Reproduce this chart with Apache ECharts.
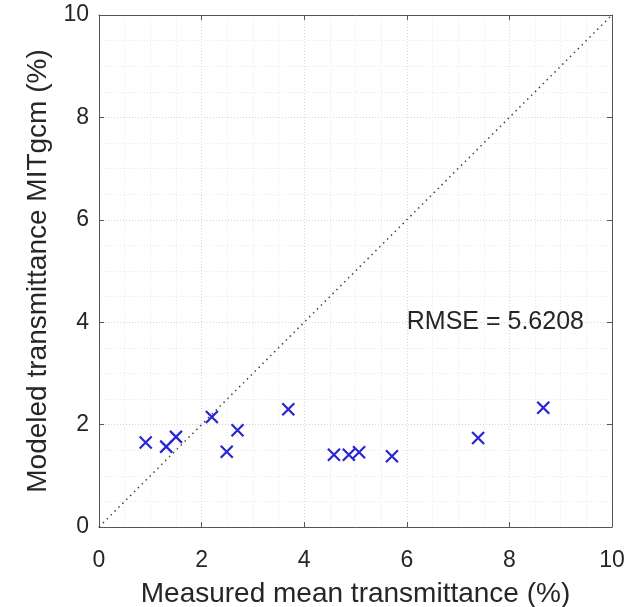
<!DOCTYPE html>
<html lang="en">
<head>
    <meta charset="UTF-8">
    <script src="https://cdn.jsdelivr.net/npm/echarts@6/dist/echarts.min.js"></script>
    <title>Transmittance</title>
</head>
<body style="margin:0; background:#fff;">
<div id="container" style="width:632px; height:607px;"></div>
<script>
    // measured vs modeled transmittance (%)
    let measured = [0.91, 1.31, 1.50, 2.20, 2.49, 2.70, 3.69, 4.58, 4.87, 5.07, 5.71, 7.39, 8.66];
    let modeled  = [1.65, 1.57, 1.76, 2.15, 1.47, 1.89, 2.30, 1.41, 1.41, 1.46, 1.38, 1.74, 2.33];
    let oneToOne = [[0, 0], [10, 10]];
    let rmseText = 'RMSE = 5.6208';
    let rmsePos = [6, 4];

    let points = measured.map(function (x, i) {
        return [x, modeled[i]];
    });

    let font = 'Liberation Sans, Arial, sans-serif';
    let axisColor = '#555';
    let textColor = '#262626';

    let dom = document.getElementById('container');
    let myChart = echarts.init(dom);

    let mainAxis = {
        min: 0,
        max: 10,
        interval: 2,
        axisLine: {show: true, onZero: false, lineStyle: {color: axisColor, width: 1}},
        axisTick: {show: true, inside: true, length: 5, lineStyle: {color: axisColor}},
        axisLabel: {color: textColor, fontSize: 23, fontFamily: font},
        splitLine: {show: true, lineStyle: {color: '#d4d4d4', type: [1, 2]}},
        minorTick: {show: false, splitNumber: 4},
        minorSplitLine: {show: true, lineStyle: {color: '#e8e8e8', type: [1, 2]}},
        nameLocation: 'middle',
        nameTextStyle: {color: textColor, fontSize: 28, fontFamily: font}
    };
    // box axes (top / right), ticks only
    let boxAxis = {
        min: 0,
        max: 10,
        interval: 2,
        axisLine: {show: true, onZero: false, lineStyle: {color: axisColor, width: 1}},
        axisTick: {show: true, inside: true, length: 5, lineStyle: {color: axisColor}},
        axisLabel: {show: false},
        splitLine: {show: false}
    };

    let option = {
        backgroundColor: '#fff',
        animation: false,
        grid: {left: 99, right: 20, top: 15, bottom: 80, containLabel: false, outerBoundsMode: 'none'},
        xAxis: [
            Object.assign({}, mainAxis, {
                type: 'value',
                position: 'bottom',
                name: 'Measured mean transmittance (%)',
                nameGap: 53,
                axisLabel: Object.assign({}, mainAxis.axisLabel, {margin: 22})
            }),
            Object.assign({}, boxAxis, {type: 'value', position: 'top'})
        ],
        yAxis: [
            Object.assign({}, mainAxis, {
                type: 'value',
                position: 'left',
                name: 'Modeled transmittance MITgcm (%)',
                nameGap: 47,
                axisLabel: Object.assign({}, mainAxis.axisLabel, {margin: 10})
            }),
            Object.assign({}, boxAxis, {type: 'value', position: 'right'})
        ],
        series: [
            {
                type: 'line',
                data: oneToOne,
                symbol: 'none',
                silent: true,
                lineStyle: {color: '#444', width: 1.5, type: [1.5, 4]},
                z: 1
            },
            {
                type: 'scatter',
                data: points,
                symbol: 'path://M0,0L10,10M10,0L0,10',
                symbolSize: 12,
                itemStyle: {color: 'none', borderColor: '#2626d4', borderWidth: 2.2, opacity: 1},
                z: 3
            },
            {
                type: 'scatter',
                data: [rmsePos],
                symbolSize: 0,
                silent: true,
                itemStyle: {opacity: 1},
                label: {
                    show: true,
                    position: 'right',
                    distance: 0,
                    formatter: rmseText,
                    color: textColor,
                    fontSize: 25,
                    fontFamily: font
                },
                z: 4
            }
        ]
    };

    myChart.setOption(option);
</script>
</body>
</html>
